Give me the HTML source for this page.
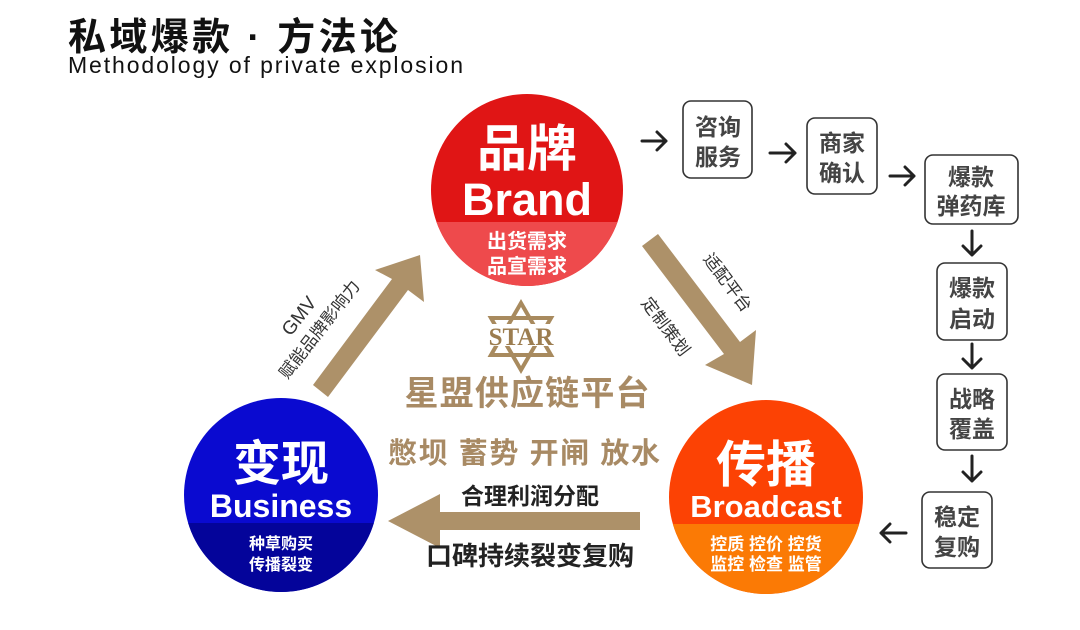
<!DOCTYPE html>
<html><head><meta charset="utf-8"><style>
html,body{margin:0;padding:0;background:#fff;width:1080px;height:630px;overflow:hidden}
svg{display:block}
text{font-family:"Liberation Sans","Noto Sans CJK SC",sans-serif}
</style></head><body>
<svg width="1080" height="630" viewBox="0 0 1080 630" xmlns="http://www.w3.org/2000/svg">
<defs>
<clipPath id="c1"><circle cx="527" cy="190" r="96"/></clipPath>
<clipPath id="c2"><circle cx="281" cy="495" r="97"/></clipPath>
<clipPath id="c3"><circle cx="766" cy="497" r="97"/></clipPath>
</defs>
<text x="68" y="50" font-size="38" font-weight="bold" fill="#111" textLength="330">私域爆款 · 方法论</text>
<text x="68" y="73" font-size="23" fill="#111" textLength="395">Methodology of private explosion</text>

<!-- Brand -->
<g clip-path="url(#c1)">
<rect x="420" y="90" width="220" height="210" fill="#e01515"/>
<rect x="420" y="222" width="220" height="80" fill="#ee4a4c"/>
</g>
<text x="527" y="166" font-size="50" fill="#fff" text-anchor="middle" font-weight="bold">品牌</text>
<text x="527" y="215" font-size="45" fill="#fff" text-anchor="middle" font-weight="bold">Brand</text>
<text x="527" y="248" font-size="20" fill="#fff" text-anchor="middle" font-weight="bold">出货需求</text>
<text x="527" y="273" font-size="20" fill="#fff" text-anchor="middle" font-weight="bold">品宣需求</text>

<!-- Business -->
<g clip-path="url(#c2)">
<rect x="180" y="395" width="205" height="205" fill="#0a0ad0"/>
<rect x="180" y="523" width="205" height="80" fill="#04049a"/>
</g>
<text x="281" y="480" font-size="48" fill="#fff" text-anchor="middle" font-weight="bold">变现</text>
<text x="281" y="517" font-size="32" fill="#fff" text-anchor="middle" font-weight="bold">Business</text>
<text x="281" y="549" font-size="16" fill="#fff" text-anchor="middle" font-weight="bold">种草购买</text>
<text x="281" y="570" font-size="16" fill="#fff" text-anchor="middle" font-weight="bold">传播裂变</text>

<!-- Broadcast -->
<g clip-path="url(#c3)">
<rect x="665" y="395" width="205" height="205" fill="#fc4204"/>
<rect x="665" y="524" width="205" height="80" fill="#fb7a05"/>
</g>
<text x="766" y="482" font-size="50" fill="#fff" text-anchor="middle" font-weight="bold">传播</text>
<text x="766" y="517" font-size="31" fill="#fff" text-anchor="middle" font-weight="bold">Broadcast</text>
<text x="766" y="550" font-size="17" fill="#fff" text-anchor="middle" font-weight="bold">控质 控价 控货</text>
<text x="766" y="570" font-size="17" fill="#fff" text-anchor="middle" font-weight="bold">监控 检查 监管</text>

<!-- big arrows -->
<g fill="#ad9169">
<polygon points="313,385 328,397 408,290 424,302 420,255 375,270 392,279"/>
<polygon points="642,246 658,234 740,342 756,330 752,385 705,365 724,354"/>
<polygon points="640,512 640,530 440,530 440,548 388,521 440,494 440,512"/>
</g>
<g font-size="17" fill="#333">
<text transform="translate(304,320) rotate(-52)" text-anchor="middle" font-size="19">GMV</text>
<text transform="translate(324,333) rotate(-52)" text-anchor="middle">赋能品牌影响力</text>
<text transform="translate(723,286) rotate(53)" text-anchor="middle">适配平台</text>
<text transform="translate(661,330) rotate(53)" text-anchor="middle">定制策划</text>
</g>

<!-- STAR logo -->
<g>
<polygon points="521,303 551,355 491,355" fill="none" stroke="#a88a5e" stroke-width="4"/>
<polygon points="521,370 551,318 491,318" fill="none" stroke="#a88a5e" stroke-width="4"/>
<rect x="490" y="324" width="62" height="22" fill="#fff"/>
<text x="521" y="345" font-size="25" font-weight="bold" fill="#9c7d50" text-anchor="middle" style="font-family:'Liberation Serif',serif">STAR</text>
</g>
<text x="527" y="405" font-size="34" fill="#a88a64" text-anchor="middle" font-weight="bold" textLength="245">星盟供应链平台</text>
<text x="524" y="463" font-size="29" fill="#a88a64" text-anchor="middle" font-weight="bold" textLength="272">憋坝 蓄势 开闸 放水</text>
<text x="530" y="504" font-size="23" fill="#222" text-anchor="middle" font-weight="bold">合理利润分配</text>
<text x="530" y="565" font-size="26" fill="#222" text-anchor="middle" font-weight="bold">口碑持续裂变复购</text>

<!-- boxes -->
<g fill="#fff" stroke="#333" stroke-width="1.6">
<rect x="683" y="101" width="69" height="77" rx="8"/>
<rect x="807" y="118" width="70" height="76" rx="8"/>
<rect x="925" y="155" width="93" height="69" rx="8"/>
<rect x="937" y="263" width="70" height="77" rx="8"/>
<rect x="937" y="374" width="70" height="76" rx="8"/>
<rect x="922" y="492" width="70" height="76" rx="8"/>
</g>
<g font-size="23" fill="#444" text-anchor="middle" font-weight="bold">
<text x="718" y="135">咨询</text><text x="718" y="165">服务</text>
<text x="842" y="151">商家</text><text x="842" y="181">确认</text>
<text x="971" y="185">爆款</text><text x="971" y="214">弹药库</text>
<text x="972" y="296">爆款</text><text x="972" y="327">启动</text>
<text x="972" y="407">战略</text><text x="972" y="437">覆盖</text>
<text x="957" y="525">稳定</text><text x="957" y="555">复购</text>
</g>
<g stroke="#222" stroke-width="3" fill="none" stroke-linecap="round" stroke-linejoin="round">
<path d="M642 141 H666 M657 132 L666 141 L657 150"/>
<path d="M770 153 H795 M786 144 L795 153 L786 162"/>
<path d="M890 176 H914 M905 167 L914 176 L905 185"/>
<path d="M972 231 V255 M963 246 L972 255 L981 246"/>
<path d="M972 344 V368 M963 359 L972 368 L981 359"/>
<path d="M972 456 V481 M963 472 L972 481 L981 472"/>
<path d="M906 533 H881 M890 524 L881 533 L890 542"/>
</g>
</svg>
</body></html>
